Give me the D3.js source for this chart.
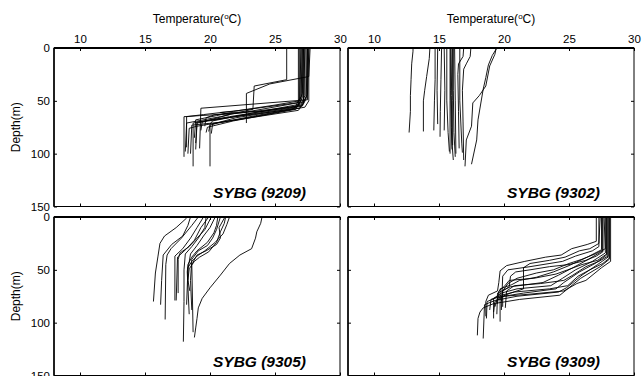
<!DOCTYPE html>
<html>
<head>
<meta charset="utf-8">
<script src="https://cdn.jsdelivr.net/npm/d3@7"></script>
<style>
  body { margin: 0; background: #fff; }
  svg { display: block; font-family: "Liberation Sans", Arial, sans-serif; }
</style>
</head>
<body>
<svg id="chart" width="642" height="376"></svg>
<script>
// axis setup
const tempTicks = [10, 15, 20, 25, 30];
const depthTicks = [0, 50, 100, 150];
const tempDomain = [8, 30];
const depthDomain = [0, 150];
const panelNames = ['SYBG (9209)', 'SYBG (9302)', 'SYBG (9305)', 'SYBG (9309)'];

// each profile is a list of [temperature, depth]
const sybg9209 = [
  [[27.3,0],[27.3,45],[27.0,53],[23.5,61],[20.2,69],[20.0,72],[20.0,112]],
  [[27.1,0],[27.1,47],[26.8,55],[22.0,62],[19.2,64],[18.0,65],[18.0,103]],
  [[27.5,0],[27.4,46],[27.1,54],[21.5,65],[18.7,71],[18.7,112]],
  [[27.5,0],[27.5,49],[19.3,57],[19.2,95]],
  [[25.9,0],[25.9,30],[23.4,36],[23.3,58],[20.8,65],[18.2,71],[18.1,98]],
  [[27.7,0],[27.6,27],[24.6,34],[22.8,43],[22.8,71]],
  [[27.2,0],[27.2,50],[26.9,57],[21.3,66],[19.0,70],[18.9,90]],
  [[27.0,0],[26.9,48],[26.5,57],[22.0,66],[20.2,72],[20.1,81]],
  [[27.6,0],[27.5,44],[27.2,51],[23.0,58],[19.5,63],[18.2,65],[18.2,94]],
  [[26.9,0],[26.9,51],[26.6,58],[21.8,69],[19.8,75],[19.7,80]],
  [[27.3,0],[27.2,52],[26.8,59],[21.0,70],[18.6,73],[18.5,100]],
  [[27.0,0],[27.0,46],[26.7,52],[22.6,61],[20.4,63],[19.7,66],[19.6,74]],
  [[27.4,0],[27.4,48],[27.1,55],[24.0,60],[21.6,61],[20.5,64],[18.9,68],[18.8,85]],
  [[27.2,0],[27.1,43],[26.9,50],[25.0,54],[21.8,60],[20.8,61],[21.5,63],[19.4,70],[19.3,78]],
  [[27.6,0],[27.6,50],[27.3,56],[23.5,64],[20.6,71],[20.0,73],[19.9,79]],
  [[26.8,0],[26.8,53],[26.4,58],[22.5,67],[19.0,74],[18.4,76],[18.3,100]],
  [[27.1,0],[27.0,49],[26.7,56],[22.4,64],[19.9,69],[19.0,71],[18.9,96]]
];

const sybg9302 = [
  [[13.0,0],[13.0,3],[12.9,15],[12.85,30],[12.8,45],[12.8,60],[12.7,80]],
  [[14.3,0],[14.25,10],[14.05,27],[13.9,40],[13.8,50],[13.8,79]],
  [[14.7,0],[14.7,30],[14.65,50],[14.6,78]],
  [[14.9,0],[14.85,40],[14.9,72]],
  [[15.2,0],[15.15,30],[15.1,60],[15.08,84]],
  [[15.4,0],[15.45,40],[15.4,78]],
  [[15.6,0],[15.6,50],[15.7,80],[15.8,98]],
  [[15.85,0],[15.85,50],[15.85,100]],
  [[15.9,0],[15.9,40],[15.95,75],[16.0,96]],
  [[16.0,0],[15.95,45],[16.0,90],[16.1,106]],
  [[16.05,0],[16.05,50],[16.05,92]],
  [[16.1,0],[16.1,40],[16.15,80],[16.25,103]],
  [[16.2,0],[16.25,50],[16.3,100]],
  [[16.6,0],[16.6,50],[16.75,90],[16.8,99]],
  [[16.9,0],[16.85,8],[16.5,15],[16.45,25],[16.5,60],[16.55,95]],
  [[17.45,0],[17.4,8],[17.1,15],[16.9,20],[16.8,40],[16.85,70],[16.9,106]],
  [[19.4,0],[19.3,6],[18.9,17],[18.6,36],[18.1,45],[17.6,52],[17.5,74],[17.1,87],[17.0,112]],
  [[19.45,0],[19.1,7],[18.8,16],[18.6,28],[18.4,39],[18.0,68],[17.9,87],[17.5,110]]
];

const sybg9305 = [
  [[24.0,0],[23.9,6],[23.6,14],[23.5,20],[23.2,30],[22.3,36],[21.5,44],[20.8,55],[20.0,67],[19.4,77],[19.1,86],[19.0,96],[18.9,105],[18.8,114]],
  [[18.2,1],[17.4,10],[16.5,18],[16.15,25],[16.0,37],[15.8,53],[15.65,80]],
  [[18.5,0],[18.3,8],[17.9,18],[17.05,26],[16.4,36],[16.28,60],[16.2,83]],
  [[19.1,0],[18.6,8],[17.8,20],[17.0,30],[16.7,36],[16.6,45],[16.55,97]],
  [[19.5,0],[19.0,10],[18.5,20],[17.9,30],[17.3,37],[17.3,79]],
  [[19.9,0],[19.3,10],[18.8,22],[18.2,30],[17.5,38],[17.4,79]],
  [[20.1,0],[19.6,12],[19.0,20],[18.4,28],[17.7,34],[17.55,40],[17.55,72]],
  [[19.7,0],[19.6,10],[19.1,20],[18.6,28],[18.1,35],[18.0,50],[18.0,80],[17.95,118]],
  [[20.4,0],[20.0,10],[19.5,18],[19.0,27],[18.5,35],[18.3,50],[18.2,83]],
  [[20.8,0],[20.5,12],[20.2,20],[19.8,27],[19.1,32],[18.6,40],[18.5,60],[18.6,88]],
  [[21.15,0],[20.7,10],[20.8,20],[20.5,26],[19.7,32],[19.0,36],[18.6,45],[18.7,109]],
  [[21.2,0],[21.1,6],[20.8,14],[20.5,24],[19.9,33],[19.2,38],[18.8,42],[18.4,49],[18.3,60],[18.45,70]],
  [[20.6,0],[20.5,8],[20.3,15],[19.8,24],[19.0,32],[18.6,38],[18.3,45],[18.25,52],[18.4,92]],
  [[21.5,0],[21.3,7],[21.0,16],[20.4,24],[19.6,32],[19.0,37],[18.6,42],[18.3,48],[18.3,62]]
];

const sybg9309 = [
  [[28.1,0],[28.1,40],[27.4,47],[25.9,58],[25.3,64],[24.3,74],[21.2,78],[19.2,82],[18.4,86],[18.15,90],[18.0,96],[17.95,112]],
  [[28.0,0],[28.0,38],[27.2,45],[26.0,55],[24.8,67],[24.2,71],[21.0,75],[19.3,79],[18.5,83],[18.4,115]],
  [[27.9,0],[27.9,36],[27.0,44],[25.8,52],[24.6,62],[24.0,68],[21.5,72],[19.5,76],[18.7,80],[18.65,96]],
  [[27.7,0],[27.8,34],[26.8,42],[25.5,50],[24.5,58],[23.6,65],[21.0,68],[19.8,72],[19.2,77],[19.2,96]],
  [[27.6,0],[27.6,32],[26.5,40],[25.3,48],[24.2,55],[23.0,62],[20.5,66],[19.5,72],[19.45,92]],
  [[27.5,0],[27.5,31],[26.4,38],[25.0,46],[23.8,52],[22.5,57],[21.2,60],[20.6,64],[19.7,68],[19.7,99]],
  [[28.2,0],[28.2,42],[27.5,48],[26.3,60],[25.6,63],[24.6,70],[22.0,73],[20.0,75],[19.3,80],[19.2,90]],
  [[27.3,0],[27.3,28],[26.8,32],[25.5,37],[24.5,42],[22.0,47],[20.3,50],[19.9,56],[19.8,88]],
  [[27.1,0],[27.1,23],[26.4,26],[25.2,30],[24.4,36],[23.2,38],[21.6,42],[20.2,46],[19.7,51],[19.6,62],[19.5,70],[18.8,74],[18.6,80],[18.6,94]],
  [[27.4,0],[27.3,25],[26.6,30],[25.8,32],[24.7,38],[23.5,41],[22.0,44],[21.5,48],[21.5,68],[20.5,72],[19.5,77],[19.3,85]],
  [[27.8,0],[27.8,30],[27.0,35],[26.0,40],[25.0,44],[23.8,50],[22.5,53],[21.0,58],[20.3,63],[19.9,70],[19.9,85]],
  [[28.0,0],[28.0,37],[27.3,42],[26.3,47],[25.3,55],[24.6,60],[22.8,63],[20.8,65],[20.2,70],[20.1,86]],
  [[27.9,0],[27.9,35],[27.2,41],[26.0,45],[24.9,50],[24.0,54],[22.3,58],[20.4,60],[20.0,66],[19.6,70],[19.5,82]],
  [[28.1,0],[28.1,39],[27.6,44],[26.6,50],[25.7,56],[24.9,65],[23.5,68],[20.8,71],[19.8,74],[19.0,78],[18.9,88]],
  [[27.6,0],[27.6,33],[27.1,37],[26.3,41],[25.0,45],[23.5,47],[22.0,50],[20.9,52],[20.5,56],[20.4,66],[19.9,70],[19.8,80]]
];

const panels = [
  {name: panelNames[0], profiles: sybg9209, col: 0, row: 0},
  {name: panelNames[1], profiles: sybg9302, col: 1, row: 0},
  {name: panelNames[2], profiles: sybg9305, col: 0, row: 1},
  {name: panelNames[3], profiles: sybg9309, col: 1, row: 1}
];

const svg = d3.select('#chart');
const colX = [54, 348];
const rowY = [48, 217];
const pw = 286, ph = 158.5;

const x = d3.scaleLinear().domain(tempDomain).range([0, pw]);
const y = d3.scaleLinear().domain(depthDomain).range([0, ph]);

const line = d3.line()
  .x(d => x(d[0]))
  .y(d => y(d[1]));

panels.forEach(p => {
  const g = svg.append('g')
    .attr('transform', `translate(${colX[p.col]},${rowY[p.row]})`);

  // profiles
  g.selectAll('.profile')
    .data(p.profiles)
    .join('path')
      .attr('class', 'profile')
      .attr('fill', 'none')
      .attr('stroke', '#000')
      .attr('stroke-width', 0.9)
      .attr('stroke-linejoin', 'round')
      .attr('d', line);

  // inward ticks on all sides
  g.append('g')
    .call(d3.axisTop(x).tickValues(tempTicks).tickSizeInner(-3).tickSizeOuter(0).tickPadding(5)
      .tickFormat(p.row === 0 ? d3.format('d') : ''));
  g.append('g')
    .attr('transform', `translate(0,${ph})`)
    .call(d3.axisBottom(x).tickValues(tempTicks).tickSizeInner(-3).tickSizeOuter(0).tickFormat(''));
  g.append('g')
    .call(d3.axisLeft(y).tickValues(depthTicks).tickSizeInner(-3).tickSizeOuter(0).tickPadding(4)
      .tickFormat(p.col === 0 ? d3.format('d') : ''));
  g.append('g')
    .attr('transform', `translate(${pw},0)`)
    .call(d3.axisRight(y).tickValues(depthTicks).tickSizeInner(-3).tickSizeOuter(0).tickFormat(''));

  g.selectAll('.domain').remove();
  g.selectAll('.tick line').attr('stroke', '#000');
  g.selectAll('.tick text')
    .attr('fill', '#000')
    .style('font-size', '11.5px')
    .style('font-family', '"Liberation Sans", Arial, sans-serif');

  // frame
  g.append('rect')
    .attr('width', pw)
    .attr('height', ph)
    .attr('fill', 'none')
    .attr('stroke', '#000')
    .attr('stroke-width', 1);
  g.append('line')
    .attr('x1', 0).attr('x2', pw)
    .attr('y1', 0).attr('y2', 0)
    .attr('stroke', '#000')
    .attr('stroke-width', 2);
  g.append('line')
    .attr('x1', 0).attr('x2', 0)
    .attr('y1', 0).attr('y2', ph)
    .attr('stroke', '#000')
    .attr('stroke-width', 1.5);

  // panel label
  g.append('text')
    .attr('x', pw - 34)
    .attr('y', ph - 9)
    .attr('text-anchor', 'end')
    .style('font-size', '15.5px')
    .style('font-weight', 'bold')
    .style('font-style', 'italic')
    .text(p.name);

  if (p.row === 0) {
    const t = g.append('text')
      .attr('x', pw / 2)
      .attr('y', -25.5)
      .attr('text-anchor', 'middle')
      .style('font-size', '12px');
    t.append('tspan').text('Temperature(');
    t.append('tspan').attr('dy', -4).style('font-size', '8px').text('o');
    t.append('tspan').attr('dy', 4).text('C)');
  }

  if (p.col === 0) {
    g.append('text')
      .attr('transform', `translate(-34.5,${ph / 2}) rotate(-90)`)
      .attr('text-anchor', 'middle')
      .style('font-size', '12px')
      .text('Depth(m)');
  }
});
</script>
</body>
</html>
